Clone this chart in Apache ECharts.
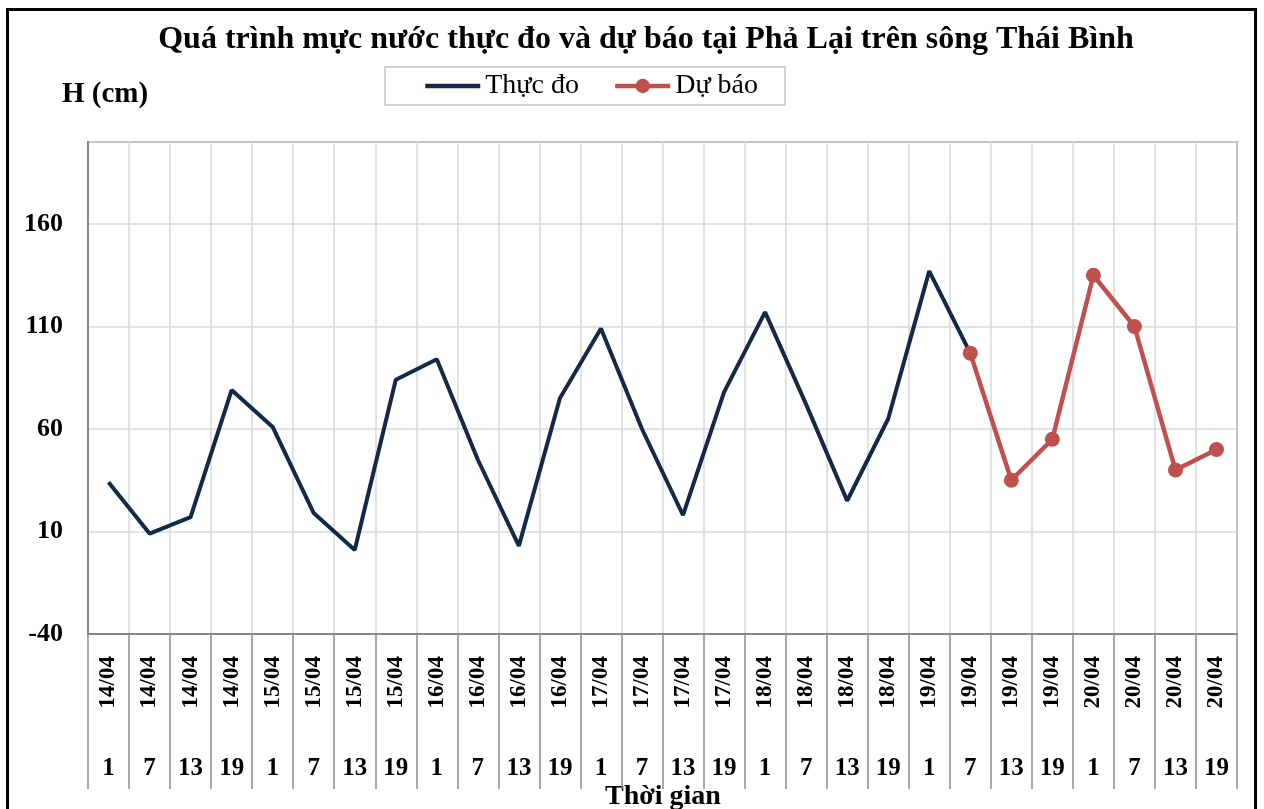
<!DOCTYPE html>
<html>
<head>
<meta charset="utf-8">
<script src="https://cdn.jsdelivr.net/npm/echarts@6/dist/echarts.min.js"></script>
<style>
html,body{margin:0;padding:0;background:#fff;}
#chart{width:1264px;height:809px;}
</style>
</head>
<body>
<div id="chart"></div>
<script>
const dates = ["14/04","14/04","14/04","14/04","15/04","15/04","15/04","15/04","16/04","16/04","16/04","16/04","17/04","17/04","17/04","17/04","18/04","18/04","18/04","18/04","19/04","19/04","19/04","19/04","20/04","20/04","20/04","20/04"];
const hours = ["1","7","13","19","1","7","13","19","1","7","13","19","1","7","13","19","1","7","13","19","1","7","13","19","1","7","13","19"];
const measured = [34, 9, 17, 79, 61, 19, 1, 84, 94, 45, 3, 75, 109, 60, 18, 78, 117, 72, 25, 65, 137, 97, null, null, null, null, null, null];
const forecast = [null, null, null, null, null, null, null, null, null, null, null, null, null, null, null, null, null, null, null, null, null, 97, 35, 55, 135, 110, 40, 50];
const yTicks = { min: -40, max: 200, interval: 50 };
const titleText = "Quá trình mực nước thực đo và dự báo tại Phả Lại trên sông Thái Bình";
const seriesNames = ["Thực đo", "Dự báo"];

const FONT = "'Liberation Serif','Times New Roman',serif";
const chart = echarts.init(document.getElementById('chart'));
chart.setOption({
  animation: false,
  backgroundColor: '#fff',
  textStyle: { fontFamily: FONT },
  grid: { left: 88, right: 27, top: 142, bottom: 175, show: true, borderColor: '#878787', borderWidth: 2, containLabel: false },
  legend: {
    left: 385, top: 67,
    padding: [5, 27, 5, 38],
    itemGap: 34, itemWidth: 55, itemHeight: 18,
    borderColor: '#c4c4c4', borderWidth: 1.5,
    lineStyle: { width: 4.5 },
    textStyle: { fontFamily: FONT, fontSize: 28, color: '#000' },
    data: [{ name: seriesNames[0], itemStyle: { opacity: 0 } }, { name: seriesNames[1] }]
  },
  xAxis: [
    {
      type: 'category', data: dates, boundaryGap: true, position: 'bottom',
      axisLine: { show: true, onZero: false, lineStyle: { color: '#878787', width: 2 } },
      axisTick: { show: true, interval: 0, length: 155, lineStyle: { color: '#8c8c8c', width: 1.5 } },
      axisLabel: { interval: 0, rotate: 90, margin: 22, fontFamily: FONT, fontWeight: 'bold', fontSize: 23, color: '#000' },
      splitLine: { show: true, interval: 0, lineStyle: { color: '#d9d9d9', width: 1.5 } }
    },
    {
      type: 'category', data: hours, boundaryGap: true, position: 'bottom', offset: 0,
      axisLine: { show: false, onZero: false }, axisTick: { show: false },
      axisLabel: { interval: 0, margin: 122, fontFamily: FONT, fontWeight: 'bold', fontSize: 25, color: '#000' },
      splitLine: { show: false }
    }
  ],
  yAxis: {
    type: 'value', min: yTicks.min, max: yTicks.max, interval: yTicks.interval,
    axisLine: { show: true, onZero: false, lineStyle: { color: '#878787', width: 2 } },
    axisTick: { show: false },
    axisLabel: { margin: 25, fontFamily: FONT, fontWeight: 'bold', fontSize: 26, color: '#000', showMaxLabel: false,
      formatter: v => (v === yTicks.max ? '' : String(v)) },
    splitLine: { show: true, lineStyle: { color: '#d9d9d9', width: 1.5 } }
  },
  series: [
    { name: seriesNames[0], type: 'line', data: measured, xAxisIndex: 0, symbol: 'none', color: '#132a47',
      lineStyle: { color: '#132a47', width: 4 }, connectNulls: false, z: 2 },
    { name: seriesNames[1], type: 'line', data: forecast, xAxisIndex: 0, symbol: 'circle', symbolSize: 15, color: '#c0504d',
      itemStyle: { color: '#c0504d' }, lineStyle: { color: '#c0504d', width: 4.5 }, connectNulls: false, z: 3 }
  ],
  graphic: [
    { type: 'rect', shape: { x: 7.5, y: 9.5, width: 1248, height: 830 }, style: { fill: 'none', stroke: '#000', lineWidth: 3 }, silent: true, z: 100 },
    { type: 'text', x: 646, y: 40, style: { text: titleText, font: "bold 32px " + FONT, fill: '#000', textAlign: 'center', textVerticalAlign: 'middle' } },
    { type: 'text', x: 62, y: 95, style: { text: 'H (cm)', font: "bold 29px " + FONT, fill: '#000', textAlign: 'left', textVerticalAlign: 'middle' } },
    { type: 'text', x: 663, y: 797, style: { text: 'Thời gian', font: "bold 28px " + FONT, fill: '#000', textAlign: 'center', textVerticalAlign: 'middle' } }
  ]
});
</script>
</body>
</html>
